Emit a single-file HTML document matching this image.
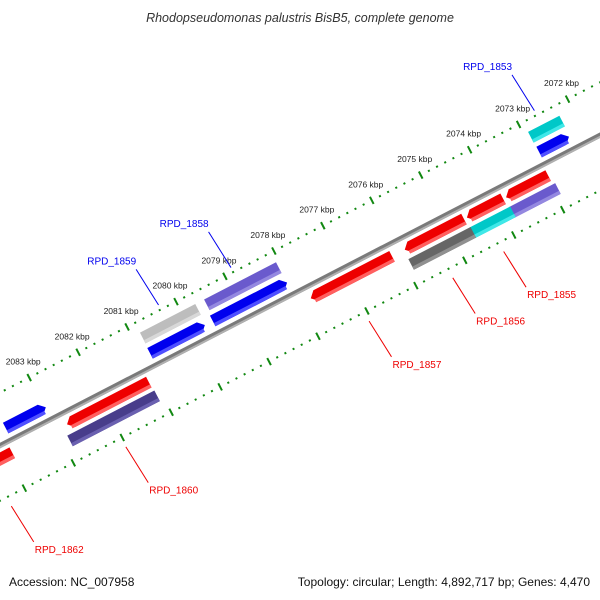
<!DOCTYPE html>
<html><head><meta charset="utf-8"><style>
body{margin:0;background:#fff}
svg{display:block;font-family:"Liberation Sans","DejaVu Sans",sans-serif}
</style></head><body>
<svg id="map" width="600" height="600" viewBox="0 0 600 600">
<rect width="600" height="600" fill="#fff"/>
<text x="300" y="22" text-anchor="middle" font-size="12.5" font-style="italic" fill="#333">Rhodopseudomonas palustris BisB5, complete genome</text>
<g id="frame" transform="translate(568,100) rotate(-27.35)"></g>
<g id="labels"></g>
<text x="9" y="586" font-size="12" fill="#111">Accession: NC_007958</text>
<text x="590" y="586" text-anchor="end" font-size="12" fill="#111">Topology: circular; Length: 4,892,717 bp; Genes: 4,470</text>
</svg>
<script>
const geneNames=["RPD_1853a","RPD_1858a","RPD_1859a","RPD_1853","RPD_1858","RPD_1859","gene_b4","RPD_1854","RPD_1855r","RPD_1856r","RPD_1857","RPD_1860","RPD_1862","RPD_1855","RPD_1856c","RPD_1856","RPD_1860b"];
const geneStart=[2072.27,2078.06,2079.71,2072.29,2078.05,2079.73,2082.98,2072.95,2073.87,2074.67,2076.14,2081.11,2083.9,2072.90,2073.82,2074.63,2081.09];
const geneEnd  =[2072.91,2079.53,2080.84,2072.90,2079.57,2080.85,2083.80,2073.81,2074.61,2075.88,2077.80,2082.78,2084.6,2073.84,2074.65,2075.90,2082.87];
const geneRow  =[0,0,0,1,1,1,1,2,2,2,2,2,2,3,3,3,3];
const geneArrow=[0,0,0,1,1,1,1,-1,-1,-1,-1,-1,-1,0,0,0,0];
const geneColor=["#00c8c8","#6a5acd","#bdbdbd","#0000ee","#0000ee","#0000ee","#0000ee","#ee0000","#ee0000","#ee0000","#ee0000","#ee0000","#ee0000","#6a5acd","#00c8c8","#666666","#483d8b"];
const geneLight=["#40e8e8","#9488e0","#d8d8d8","#5050ff","#5050ff","#5050ff","#5050ff","#ff6060","#ff6060","#ff6060","#ff6060","#ff6060","#ff6060","#9488e0","#40e8e8","#909090","#6a60b0"];
const labelKbp=[2072,2073,2074,2075,2076,2077,2078,2079,2080,2081,2082,2083];
const calloutNames=["RPD_1853","RPD_1858","RPD_1859","RPD_1855","RPD_1856","RPD_1857","RPD_1860","RPD_1862"];
const calloutKbp=[2072.63,2078.83,2080.31,2074.3,2075.34,2077.05,2082.02,2084.36];
const calloutSide=[-1,-1,-1,1,1,1,1,1];
const PX=55.1, ORIGIN=2072;
const rowV=[16,33,58,74];
const ns="http://www.w3.org/2000/svg";
const frame=document.getElementById('frame');
const labels=document.getElementById('labels');
function lx(k){return -(k-ORIGIN)*PX;}
const ang=-27.35*Math.PI/180;
function toScreen(x,y){return [568+x*Math.cos(ang)-y*Math.sin(ang),100+x*Math.sin(ang)+y*Math.cos(ang)];}
function mk(tag,attrs,parent){const e=document.createElementNS(ns,tag);for(const k in attrs)e.setAttribute(k,attrs[k]);parent.appendChild(e);return e;}
let bb=mk('rect',{x:-800,y:43.5,width:1600,height:5,fill:'#7a7a7a'},frame);


let bb2=mk('rect',{x:-800,y:46.5,width:1600,height:2,fill:'#b0b0b0'},frame);


[[-1,'outer'],[95,'inner']].forEach(([v,nm])=>{
  for(let k=2070;k<=2086;k+=1/6){
    const isMajor=Math.abs(k-Math.round(k))<0.01;
    const d=mk('rect',{x:lx(k)-1,y:isMajor?v-4:v-1,width:2,height:isMajor?8:2,fill:'#118811'},frame);
    
    
  }
});
labelKbp.forEach(k=>{
  const p=toScreen(lx(k),-1);
  const t=mk('text',{x:p[0]-6,y:p[1]-13,'text-anchor':'middle','font-size':'8.5',fill:'#222'},labels);
  t.textContent=k+' kbp';
  
  
});
geneStart.forEach((s,i)=>{
  const a=lx(geneEnd[i]), b=lx(s), v=rowV[geneRow[i]], h=12, t=6;
  let pts;
  if(geneArrow[i]===1) pts=`${a},${v-h/2} ${b-t},${v-h/2} ${b},${v} ${b-t},${v+h/2} ${a},${v+h/2}`;
  else if(geneArrow[i]===-1) pts=`${a},${v} ${a+t},${v-h/2} ${b},${v-h/2} ${b},${v+h/2} ${a+t},${v+h/2}`;
  else pts=`${a},${v-h/2} ${b},${v-h/2} ${b},${v+h/2} ${a},${v+h/2}`;
  const g=mk('g',{},frame);
  
  
  mk('polygon',{points:pts,fill:geneColor[i]},g);
  const hx1=a+(geneArrow[i]===-1?t/2:0), hx2=b-(geneArrow[i]===1?t/2:0);
  mk('rect',{x:hx1,y:v+h/2-3.5,width:hx2-hx1,height:3.5,fill:geneLight[i]},g);
});
calloutNames.forEach((n,i)=>{
  const side=calloutSide[i];
  const x=lx(calloutKbp[i]);
  const v1=side<0?-6:105, v2=side<0?-48:147;
  const p1=toScreen(x,v1), p2=toScreen(x+3.5*side,v2);
  const col=side<0?'#0000ee':'#ee0000';
  const l=mk('line',{x1:p1[0],y1:p1[1],x2:p2[0],y2:p2[1],stroke:col,'stroke-width':1},labels);
  
  
  const tx=mk('text',{x:side<0?p2[0]:p2[0]+1,y:side<0?p2[1]-5:p2[1]+11,'text-anchor':side<0?'end':'start','font-size':'10',fill:col},labels);
  tx.textContent=n;
  
  
});
</script>
</body></html>
